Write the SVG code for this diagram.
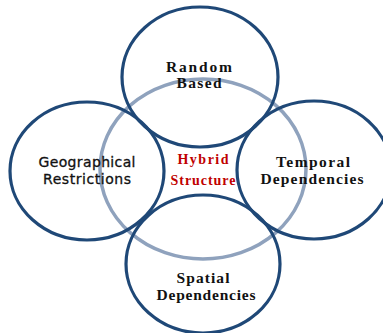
<svg xmlns="http://www.w3.org/2000/svg" width="383" height="333" viewBox="0 0 383 333">
<style>
.blue{fill:none;stroke:#1f4877;stroke-width:3.2}
.hyb{fill:none;stroke:#8fa2bd;stroke-width:3.5}
.serif{font-family:"Liberation Serif","Times New Roman",serif;font-weight:bold;font-size:15.5px;fill:#111;text-anchor:middle}
.sans{font-family:"DejaVu Sans",Verdana,sans-serif;font-size:14px;fill:#111;text-anchor:middle;stroke:#111;stroke-width:0.3}
.red{font-family:"Liberation Serif","Times New Roman",serif;font-weight:bold;font-size:14px;fill:#c00000;text-anchor:middle}
</style>
<rect width="383" height="333" fill="#fff"/>
<g id="hybrid">
<ellipse class="hyb" cx="203" cy="169" rx="103" ry="90"/>
<text class="red" x="203" y="164" textLength="51" lengthAdjust="spacing">Hybrid</text>
<text class="red" x="203" y="185" textLength="65" lengthAdjust="spacing">Structure</text>
</g>
<g id="random">
<ellipse class="blue" cx="200" cy="77" rx="78" ry="70"/>
<text class="serif" x="199" y="72" textLength="66" lengthAdjust="spacing">Random</text>
<text class="serif" x="199" y="88" textLength="45" lengthAdjust="spacing">Based</text>
</g>
<g id="geographical">
<ellipse class="blue" cx="87" cy="171" rx="77" ry="69"/>
<text class="sans" x="87" y="167" textLength="97" lengthAdjust="spacing">Geographical</text>
<text class="sans" x="87" y="184" textLength="88" lengthAdjust="spacing">Restrictions</text>
</g>
<g id="temporal">
<ellipse class="blue" cx="314" cy="170" rx="77" ry="69"/>
<text class="serif" x="313" y="167" textLength="74" lengthAdjust="spacing">Temporal</text>
<text class="serif" x="312" y="184" textLength="103" lengthAdjust="spacing">Dependencies</text>
</g>
<g id="spatial">
<ellipse class="blue" cx="203" cy="264" rx="77" ry="69"/>
<text class="serif" x="203" y="283" textLength="53" lengthAdjust="spacing">Spatial</text>
<text class="serif" x="206" y="300" textLength="99" lengthAdjust="spacing">Dependencies</text>
</g>
<g id="connectors"></g>
</svg>
